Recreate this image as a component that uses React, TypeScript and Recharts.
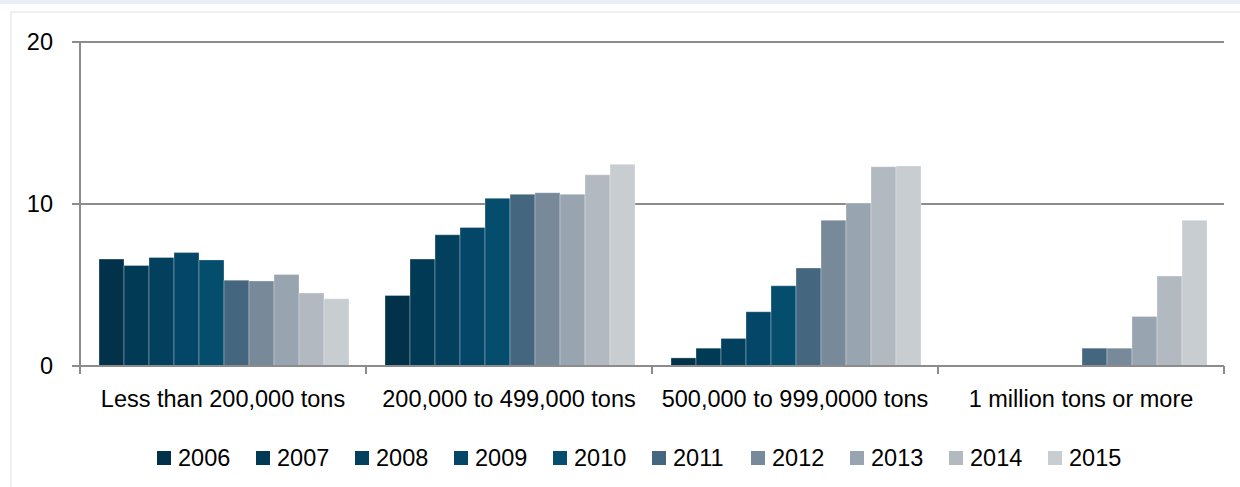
import React from "react";
import {
  Bar,
  BarChart,
  CartesianGrid,
  Legend,
  XAxis,
  YAxis,
} from "recharts";

const categories = [
  "Less than 200,000 tons",
  "200,000 to 499,000 tons",
  "500,000 to 999,0000 tons",
  "1 million tons or more",
];

const years = ["2006", "2007", "2008", "2009", "2010", "2011", "2012", "2013", "2014", "2015"];

// one row per year, one value per size class
const v2006 = [6.6, 4.35, 0.5, null];
const v2007 = [6.2, 6.6, 1.1, null];
const v2008 = [6.7, 8.1, 1.7, null];
const v2009 = [7.0, 8.55, 3.35, null];
const v2010 = [6.55, 10.35, 4.95, null];
const v2011 = [5.3, 10.6, 6.05, 1.1];
const v2012 = [5.25, 10.7, 9.0, 1.1];
const v2013 = [5.65, 10.6, 10.05, 3.05];
const v2014 = [4.5, 11.8, 12.3, 5.55];
const v2015 = [4.15, 12.45, 12.35, 9.0];

const yTicks = [0, 10, 20];

const seriesValues = [v2006, v2007, v2008, v2009, v2010, v2011, v2012, v2013, v2014, v2015];

const colors = [
  "#01324a",
  "#013a55",
  "#02405e",
  "#034667",
  "#044d6d",
  "#44677f",
  "#788a9a",
  "#98a4b0",
  "#b2b9c1",
  "#c8cdd2",
];

const data = categories.map((name, i) => {
  const row: Record<string, any> = { name };
  years.forEach((y, j) => {
    row[y] = seriesValues[j][i];
  });
  return row;
});

const FONT = "'Liberation Sans', Arial, sans-serif";
const AXIS = "#8c8c8c";

const CategoryTick = (props: any) => {
  const { x, y, payload, index } = props;
  const half = payload && payload.offset ? payload.offset : 143;
  return (
    <g>
      <line x1={x - half} x2={x - half} y1={y} y2={y + 8} stroke={AXIS} strokeWidth={2} />
      {index === categories.length - 1 && (
        <line x1={x + half} x2={x + half} y1={y} y2={y + 8} stroke={AXIS} strokeWidth={2} />
      )}
      <text x={x} y={y + 41} textAnchor="middle" fill="#000" fontSize={23.5} fontFamily={FONT}>
        {payload.value}
      </text>
    </g>
  );
};

const YearLegend = () => (
  <div
    style={{
      display: "flex",
      alignItems: "center",
      height: 40,
      paddingLeft: 157,
      fontFamily: FONT,
      fontSize: 23.5,
      color: "#000",
    }}
  >
    {years.map((y, i) => (
      <div key={y} style={{ display: "flex", alignItems: "center", width: i < years.length - 1 ? 99 : "auto" }}>
        <span style={{ width: 14, height: 14, background: colors[i], display: "inline-block", marginRight: 7 }} />
        <span>{y}</span>
      </div>
    ))}
  </div>
);

export default function App() {
  return (
    <div
      style={{
        position: "absolute",
        left: 0,
        top: 0,
        width: 1240,
        height: 487,
        overflow: "hidden",
        background: "#fff",
      }}
    >
      <div style={{ position: "absolute", left: 0, top: 0, width: 1240, height: 4, background: "#e9edf5" }} />
      <div
        style={{
          position: "absolute",
          left: 10,
          top: 11,
          width: 1260,
          height: 500,
          borderTop: "2px solid #efefef",
          borderLeft: "2px solid #efefef",
        }}
      />
      <div style={{ position: "absolute", left: 0, top: 0 }}>
        <BarChart
          width={1240}
          height={487}
          data={data}
          margin={{ top: 42, right: 16, bottom: 9, left: 20 }}
          barGap={0}
          barCategoryGap={19}
        >
          <CartesianGrid vertical={false} stroke={AXIS} strokeWidth={2} />
          <XAxis
            dataKey="name"
            height={72}
            axisLine={{ stroke: AXIS, strokeWidth: 2 }}
            tickLine={false}
            tickSize={0}
            tickMargin={0}
            interval={0}
            tick={<CategoryTick />}
          />
          <YAxis
            width={60}
            domain={[0, 20]}
            ticks={yTicks}
            interval={0}
            axisLine={{ stroke: AXIS, strokeWidth: 2 }}
            tickLine={{ stroke: AXIS, strokeWidth: 2 }}
            tickSize={8}
            tickMargin={19}
            tick={{ fill: "#000", fontSize: 23.5, fontFamily: FONT }}
          />
          <Legend verticalAlign="bottom" wrapperStyle={{ left: 0, width: 1240 }} content={<YearLegend />} />
          {years.map((y, i) => (
            <Bar
              key={y}
              dataKey={y}
              fill={colors[i]}
              stroke="#ffffff"
              strokeOpacity={0.3}
              strokeWidth={1}
              isAnimationActive={false}
            />
          ))}
        </BarChart>
      </div>
    </div>
  );
}
